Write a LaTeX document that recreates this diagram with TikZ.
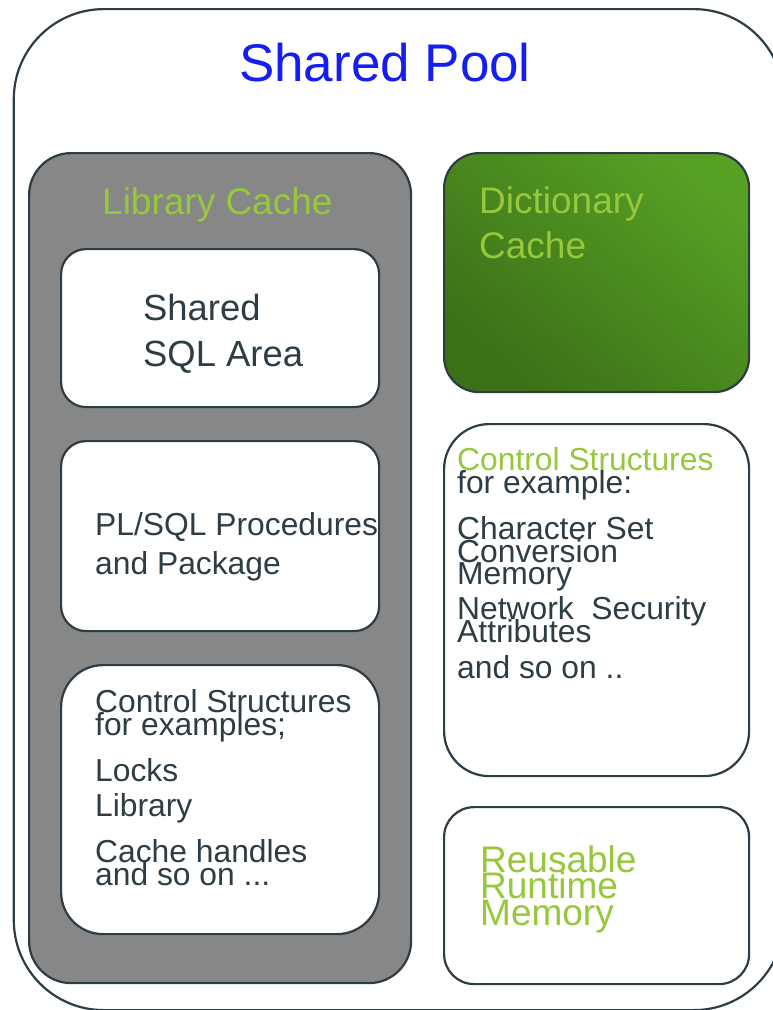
\documentclass[tikz,border=0pt]{standalone}
\usepackage{fontspec}
\setmainfont{Liberation Sans}
\usetikzlibrary{positioning}

\definecolor{ink}{RGB}{46,61,69}
\definecolor{poolblue}{RGB}{20,30,240}
\definecolor{lime}{RGB}{150,200,60}
\definecolor{cachegray}{RGB}{135,135,135}
\definecolor{dictlight}{RGB}{86,160,36}
\definecolor{dictdark}{RGB}{60,112,24}

\newcommand{\fsz}[1]{\fontsize{#1}{#1}\selectfont}

\begin{document}
\begin{tikzpicture}[
    x=1pt, y=-1pt,
    frame/.style={draw=ink, line width=2.2pt, anchor=north west, inner sep=0pt},
    area/.style={frame, fill=white},
    line/.style={anchor=base west, inner sep=0pt, text=ink, font=\fsz{31.8}},
    head/.style={line, text=lime}
]
\useasboundingbox (0,0) rectangle (772,1010);

% Outer pool
\node[frame, rounded corners=90pt, minimum width=770pt, minimum height=1001pt] (pool) at (12.7,8) {};
\node[anchor=base, inner sep=0pt, text=poolblue, font=\fsz{53}] (pooltitle) at (385,81) {Shared Pool};

% Library cache and its parts
\node[frame, fill=cachegray, rounded corners=42pt, minimum width=382pt, minimum height=830pt] (library) at (28,152) {};
\node[head, font=\fsz{37}] (libtitle) at (102,214) {Library Cache};

\node[area, rounded corners=25pt, minimum width=318pt, minimum height=158pt] (sqlarea) at (60,248) {};
\node[line, font=\fsz{36.4}] (sql1) at (143,320) {Shared};
\node[line, font=\fsz{36.4}] (sql2) at (143,366) {SQL Area};

\node[area, rounded corners=25pt, minimum width=318pt, minimum height=190pt] (plsql) at (60,440) {};
\node[line] (pl1) at (95,535) {PL/SQL Procedures};
\node[line] (pl2) at (95,574) {and Package};

\node[area, rounded corners=42pt, minimum width=318pt, minimum height=269pt] (libctrl) at (60,664) {};
\node[line] (lc1) at (95,712) {Control Structures};
\node[line] (lc2) at (95,735) {for examples;};
\node[line] (lc3) at (95,781) {Locks};
\node[line] (lc4) at (95,816) {Library};
\node[line] (lc5) at (95,862) {Cache handles};
\node[line] (lc6) at (95,885) {and so on ...};

% Dictionary cache
\node[frame, rounded corners=35pt, top color=dictlight, bottom color=dictdark, shading angle=-40,
      minimum width=305pt, minimum height=239pt] (dict) at (443,152) {};
\node[head, font=\fsz{37}] (dict1) at (479,213) {Dictionary};
\node[head, font=\fsz{37}] (dict2) at (479,258) {Cache};

\node[area, rounded corners=45pt, minimum width=305pt, minimum height=352pt] (dictctrl) at (443,423) {};
\node[head] (dc1) at (457,470) {Control Structures};
\node[line] (dc2) at (457,493) {for example:};
\node[line] (dc3) at (457,539) {Character Set};
\node[line] (dc4) at (457,562) {Conversion};
\node[line] (dc5) at (457,584) {Memory};
\node[line] (dc6) at (457,619) {Network\ \ Security};
\node[line] (dc7) at (457,642) {Attributes};
\node[line] (dc8) at (457,678) {and so on ..};

% Runtime memory
\node[area, rounded corners=30pt, minimum width=305pt, minimum height=177pt] (runtime) at (443,806) {};
\node[head, font=\fsz{37}] (rt1) at (480,872) {Reusable};
\node[head, font=\fsz{37}] (rt2) at (480,898) {Runtime};
\node[head, font=\fsz{37}] (rt3) at (480,925) {Memory};

\end{tikzpicture}
\end{document}
